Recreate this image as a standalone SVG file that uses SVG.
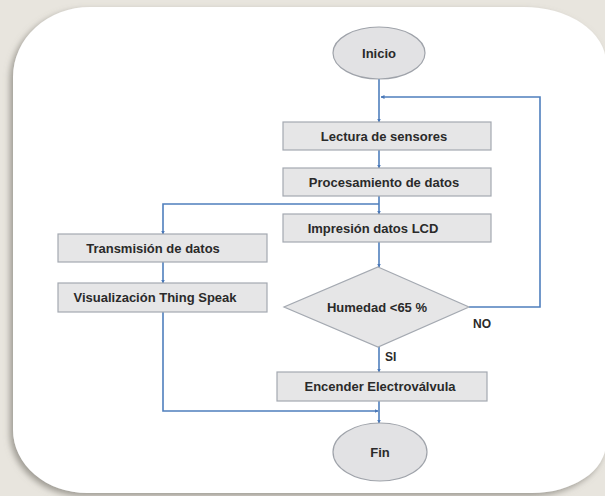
<svg xmlns="http://www.w3.org/2000/svg" width="605" height="496" viewBox="0 0 605 496">
  <defs>
    <filter id="cardShadow" x="-10%" y="-10%" width="120%" height="120%">
      <feGaussianBlur in="SourceAlpha" stdDeviation="3"/>
      <feOffset dx="-3" dy="3" result="blur"/>
      <feFlood flood-color="#7d7a72" flood-opacity="0.7"/>
      <feComposite in2="blur" operator="in"/>
      <feMerge>
        <feMergeNode/>
        <feMergeNode in="SourceGraphic"/>
      </feMerge>
    </filter>
    <marker id="arrow" viewBox="0 0 8 8" refX="7" refY="4" markerWidth="4" markerHeight="4" orient="auto" markerUnits="userSpaceOnUse">
      <path d="M0,0 L8,4 L0,8 Z" fill="#4a78b8"/>
    </marker>
    <style>
      .box { fill: #e6e6e7; stroke: #a4a9b1; stroke-width: 1.2; }
      .term { fill: #e2e2e4; stroke: #9fa3aa; stroke-width: 1.2; }
      .label { font-family: "Liberation Sans", Arial, sans-serif; font-weight: bold; font-size: 13px; fill: #2a2a2a; text-anchor: middle; }
      .tag { font-family: "Liberation Sans", Arial, sans-serif; font-weight: bold; font-size: 12px; fill: #2a2a2a; }
      .wire { fill: none; stroke: #4f7fbd; stroke-width: 1.6; }
      .arr { marker-end: url(#arrow); }
    </style>
  </defs>

  <!-- page background and rounded card -->
  <rect x="0" y="0" width="605" height="496" fill="#e8e5de"/>
  <path filter="url(#cardShadow)" fill="#ffffff"
        d="M13,77 A77,70 0 0 1 90,7 H523 A82,56 0 0 1 606,63 V443 A74,50 0 0 1 532,493 H87 A74,63 0 0 1 13,430 Z"/>

  <!-- connectors -->
  <g id="connectors">
    <path class="wire arr" d="M379,79 V122"/>
    <path class="wire arr" d="M469,307 H540 V97 H381"/>
    <path class="wire arr" d="M379,150 V168"/>
    <path class="wire arr" d="M379,196 V214"/>
    <path class="wire arr" d="M379,204 H163 V234"/>
    <path class="wire arr" d="M163,262 V283"/>
    <path class="wire arr" d="M379,242 V267"/>
    <path class="wire arr" d="M379,347 V372"/>
    <path class="wire arr" d="M379,401 V423"/>
    <path class="wire arr" d="M163,312 V411 H378"/>
  </g>

  <!-- nodes -->
  <g id="inicio">
    <ellipse class="term" cx="379" cy="53" rx="46" ry="26"/>
    <text class="label" x="379" y="57.5">Inicio</text>
  </g>
  <g id="lectura">
    <rect class="box" x="283" y="122" width="208" height="28"/>
    <text class="label" x="384" y="140.5">Lectura de sensores</text>
  </g>
  <g id="procesamiento">
    <rect class="box" x="283" y="168" width="208" height="28"/>
    <text class="label" x="384" y="186.5">Procesamiento de datos</text>
  </g>
  <g id="impresion">
    <rect class="box" x="283" y="214" width="208" height="28"/>
    <text class="label" x="373" y="232.5">Impresión datos LCD</text>
  </g>
  <g id="transmision">
    <rect class="box" x="58" y="234" width="209" height="28"/>
    <text class="label" x="153" y="252.5">Transmisión de datos</text>
  </g>
  <g id="visualizacion">
    <rect class="box" x="58" y="283" width="209" height="29"/>
    <text class="label" x="155" y="302">Visualización Thing Speak</text>
  </g>
  <g id="humedad">
    <polygon class="box" points="378,267 469,307 378,347 284,307"/>
    <text class="label" x="377" y="312">Humedad &lt;65 %</text>
  </g>
  <g id="encender">
    <rect class="box" x="277" y="372" width="210" height="29"/>
    <text class="label" x="380" y="391">Encender Electroválvula</text>
  </g>
  <g id="fin">
    <ellipse class="term" cx="380" cy="452" rx="47" ry="29"/>
    <text class="label" x="380" y="456.5">Fin</text>
  </g>

  <!-- branch labels -->
  <text class="tag" x="473" y="328">NO</text>
  <text class="tag" x="385" y="361">SI</text>
</svg>
